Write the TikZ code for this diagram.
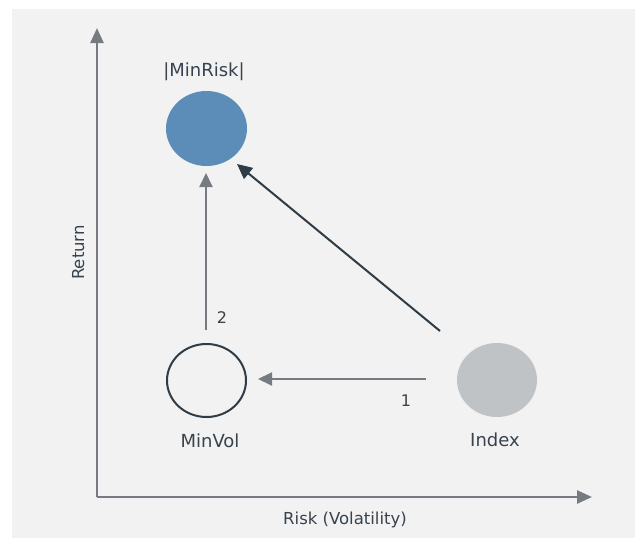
\documentclass[tikz,border=0pt]{standalone}
\usepackage{fontspec}
\setmainfont{DejaVu Sans}
\usetikzlibrary{arrows.meta,shapes.geometric}
\definecolor{bgc}{HTML}{F2F2F2}
\definecolor{axisc}{HTML}{767B82}
\definecolor{txtc}{HTML}{38434D}
\definecolor{darkc}{HTML}{2F3B45}
\definecolor{bluec}{HTML}{5B8DB8}
\definecolor{greyc}{HTML}{C0C3C6}
\tikzset{
  axisline/.style={draw=axisc, line width=2.5pt, -{Triangle[length=15pt,width=13pt]}},
  grayarrow/.style={draw=axisc, line width=2pt, -{Triangle[length=14pt,width=13pt]}},
  darkarrow/.style={draw=darkc, line width=2pt, -{Triangle[length=15pt,width=14pt]}},
  blob/.style={ellipse, minimum width=81pt, minimum height=75pt, inner sep=0pt},
  lbl/.style={text=txtc, font=\fontsize{18}{21}\selectfont, inner sep=0pt, anchor=base},
  axlbl/.style={text=txtc, font=\fontsize{16.5}{19}\selectfont, inner sep=0pt, anchor=base},
  numlbl/.style={text=txtc, font=\fontsize{16}{19}\selectfont, inner sep=0pt, anchor=base}
}
\begin{document}
\begin{tikzpicture}[x=1pt,y=-1pt]
\useasboundingbox (0,0) rectangle (635,538);
\fill[bgc] (12,9) rectangle (635,538);
% axes
\coordinate (org) at (97,497);
\coordinate (xtip) at (592,497);
\coordinate (ytip) at (97,28);
\draw[axisline] (org) -- (ytip);
\draw[axisline] (org) -- (xtip);
\node[axlbl] (xl) at (345,524) {Risk (Volatility)};
\node[axlbl, rotate=90] (yl) at (84,252.5) {Return};
% nodes
\node[blob, fill=bluec] (minrisk) at (206.5,128.5) {};
\node[blob, draw=darkc, line width=2pt, minimum width=79pt, minimum height=73pt] (minvol) at (206.5,380.5) {};
\node[blob, fill=greyc, minimum width=80pt, minimum height=74pt] (index) at (497,380) {};
\node[lbl] (lminrisk) at (204,76) {|MinRisk|};
\node[lbl] (lminvol) at (210,447) {MinVol};
\node[lbl] (lindex) at (495,446) {Index};
% connectors
\coordinate (a1s) at (426,379);
\coordinate (a1e) at (258,379);
\draw[grayarrow] (a1s) -- (a1e);
\node[numlbl] (n1) at (406,406) {1};
\coordinate (a2s) at (206,330);
\coordinate (a2e) at (206,173);
\draw[grayarrow] (a2s) -- (a2e);
\node[numlbl] (n2) at (222,323) {2};
\coordinate (ds) at (440,331);
\coordinate (de) at (237,164);
\draw[darkarrow] (ds) -- (de);
\end{tikzpicture}
\end{document}
